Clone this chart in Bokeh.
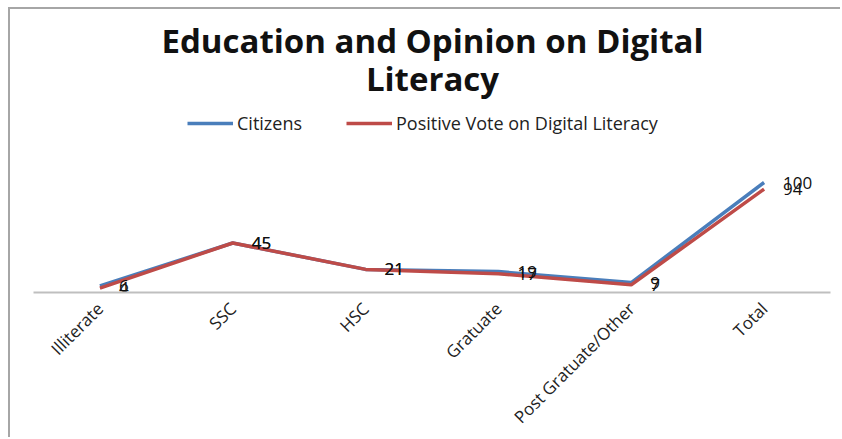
from bokeh.plotting import figure
from bokeh.models import (FactorRange, Range1d, Label, Legend, LegendItem,
                          ColumnDataSource)
from bokeh.core.properties import value
from bokeh.embed import file_html
from bokeh.resources import INLINE
import math

categories = ["Illiterate", "SSC", "HSC", "Gratuate", "Post Gratuate/Other", "Total"]
citizens = [6, 45, 21, 19, 9, 100]
positive = [4, 45, 21, 17, 7, 94]

title_lines = ["Education and Opinion on Digital", "Literacy"]
series_names = ["Citizens", "Positive Vote on Digital Literacy"]

BLUE = "#4A7EBB"
RED = "#BE4B48"
FONT = "Open Sans"

# canvas starts at page (10, 9) because of the CSS border/margin below
p = figure(width=832, height=430, x_range=FactorRange(*categories),
           y_range=Range1d(0, 283 / 1.1), output_backend="svg", toolbar_location=None,
           min_border_left=23, min_border_right=12, min_border_top=0,
           min_border_bottom=147)
p.styles = {"margin-left": "8px", "margin-top": "7px",
            "border-left": "2px solid #A6A6A6", "border-top": "2px solid #A6A6A6"}
p.outline_line_color = None
p.grid.visible = False
p.yaxis.visible = False
p.background_fill_color = "white"
p.border_fill_color = "white"

ax = p.xaxis[0]
ax.axis_line_color = "#BFBFBF"
ax.axis_line_width = 2
ax.major_tick_line_color = None
ax.minor_tick_line_color = None
ax.major_label_orientation = math.pi / 4
ax.major_label_text_font = FONT
ax.major_label_text_font_size = "17px"
ax.major_label_text_color = "#222222"
ax.major_label_standoff = 7

src = ColumnDataSource(dict(x=categories, c=citizens, v=positive,
                            ct=[str(a) for a in citizens],
                            vt=[str(a) for a in positive]))

r1 = p.line("x", "c", source=src, line_color=BLUE, line_width=3.5)
r2 = p.line("x", "v", source=src, line_color=RED, line_width=3.5)

p.text("x", "c", text="ct", source=src, x_offset=19, text_baseline="middle",
       text_align="left", text_font=value(FONT), text_font_size="17px",
       text_color="#111111")
p.text("x", "v", text="vt", source=src, x_offset=19, text_baseline="middle",
       text_align="left", text_font=value(FONT), text_font_size="17px",
       text_color="#111111")

legend = Legend(items=[LegendItem(label=series_names[0], renderers=[r1]),
                       LegendItem(label=series_names[1], renderers=[r2])],
                location=(154, 157), orientation="horizontal",
                glyph_width=46, glyph_height=20, label_standoff=4, spacing=44,
                padding=0, margin=0, border_line_alpha=0,
                background_fill_alpha=0, label_text_font=FONT,
                label_text_font_size="18px", label_text_color="#222222")
p.add_layout(legend, "center")

for i, t in enumerate(title_lines):
    p.add_layout(Label(x=399, y=252 - 38 * i, x_units="screen", y_units="screen",
                       text=t, text_align="center", text_baseline="middle",
                       text_font=FONT, text_font_style="bold",
                       text_font_size="33px", text_color="#111111"))

open("out.html", "w").write(file_html(p, INLINE))
